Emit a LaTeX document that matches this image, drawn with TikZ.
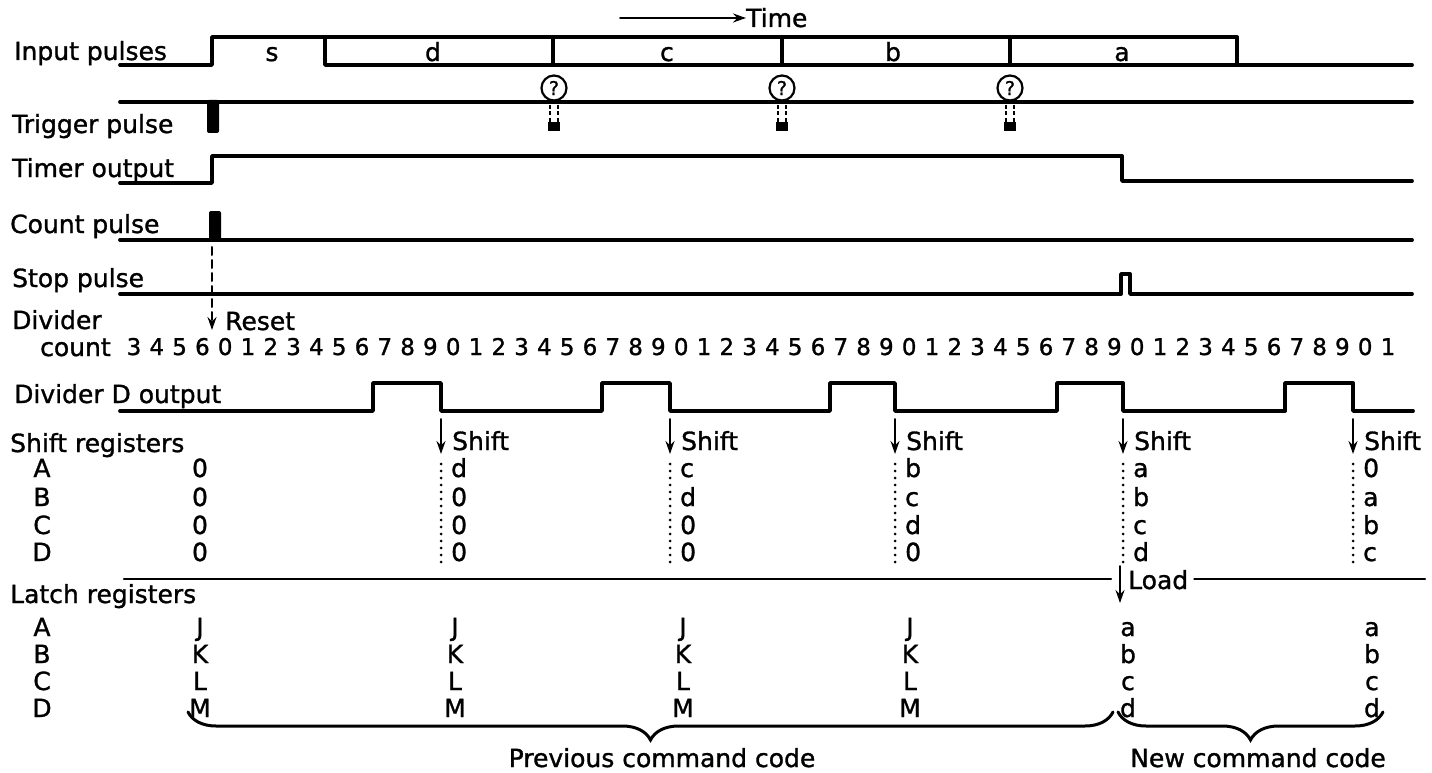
\documentclass[tikz,border=0pt]{standalone}
\usepackage{fontspec}
\setmainfont{DejaVu Sans}[FakeBold=1.2]
\usetikzlibrary{arrows.meta,decorations.pathreplacing}

\begin{document}
\begin{tikzpicture}[x=1pt,y=-1pt,>={Stealth[length=13pt,width=9pt]},line cap=round,
  font=\fontsize{25}{30}\selectfont,
  wave/.style={line width=3.8pt,line join=round},
  lab/.style={anchor=base west,inner sep=0pt},
  val/.style={anchor=base,inner sep=0pt},
  digit/.style={anchor=base,inner sep=0pt,font=\fontsize{23}{26}\selectfont},
  qmark/.style={draw,circle,line width=2.2pt,inner sep=0pt,minimum size=25pt,font=\fontsize{19}{19}\selectfont},
  dotline/.style={line width=3pt,dash pattern=on 0pt off 7pt},
  sigarrow/.style={->,line width=2pt},
  cbrace/.style={decorate,decoration={brace,mirror,amplitude=28pt,aspect=0.5},line width=3pt}]
\useasboundingbox (0,0) rectangle (1432,773);
% time arrow
\node[lab] (time) at (746,27) {Time};
\draw[->,line width=2pt] (620,18) -- (time.base west |- 0,18);
% signal names
\node[lab] (inp) at (14,60) {Input pulses};
\node[lab] (trig) at (12,133) {Trigger pulse};
\node[lab] (tmr) at (12,177) {Timer output};
\node[lab] (cnt) at (10,233) {Count pulse};
\node[lab] (stp) at (12,287) {Stop pulse};
\node[lab] (div) at (12,329) {Divider};
\node[lab] (divc) at (40,356) {count};
\node[lab] (divd) at (14,403) {Divider D output};
\node[lab] (shreg) at (10,452) {Shift registers};
\node[lab] (ltreg) at (10,603) {Latch registers};
% input pulses
\draw[wave] (120,65) -| (212,37) -| (1237,65) -- (1412,65);
\draw[wave] (325,37) |- (1237,65);
\foreach \x in {553,782,1010}
  \draw[wave] (\x,37) -- (\x,65);
\foreach \x/\t in {272/s,433/d,667/c,893/b,1122/a}
  \node[val] (in\t) at (\x,61) {\t};
% trigger pulse
\draw[wave] (120,102) -- (1412,102);
\fill[rounded corners=2pt] (207,100) rectangle (219,133);
\foreach \x in {554,782,1010} {
  \node[qmark] (q\x) at (\x,88) {?};
  \draw[line width=1.8pt,dash pattern=on 4pt off 2.5pt,line cap=butt] (\x-4,105) -- (\x-4,125) (\x+4,105) -- (\x+4,125);
  \fill (\x-6,122) rectangle (\x+6,131);
}
% timer output
\draw[wave] (120,183) -| (212,156) -| (1122,181) -- (1412,181);
% count pulse
\draw[wave] (120,240) -- (1412,240);
\fill[rounded corners=2pt] (209,211) rectangle (221,241);
\coordinate (cp) at (212,247);
\node[lab] (reset) at (225,330) {Reset};
\coordinate (rst) at (212,330);
\draw[->,line width=2pt,dash pattern=on 8pt off 5pt] (cp) -- (rst);
% stop pulse
\draw[wave] (120,294) -- (1121,294) |- (1130,274) -- (1130,294) -- (1412,294);
% divider count
\foreach \d [count=\i from 0] in {3,4,5,6,0,1,2,3,4,5,6,7,8,9,0,1,2,3,4,5,6,7,8,9,0,1,2,3,4,5,6,7,8,9,0,1,2,3,4,5,6,7,8,9,0,1,2,3,4,5,6,7,8,9,0,1}
  \node[digit] (dc\i) at ({134+\i*22.8},355) {\d};
% divider D output
\draw[wave] (120,411) -| (373,383) -| (441,411) -| (602,383) -| (670,411) -| (830,383) -| (895,411)
  -| (1057,383) -| (1123,411) -| (1285,383) -| (1353,411) -- (1413,411);
% shift registers
\foreach \r/\y in {A/477,B/506,C/534,D/561} {
  \node[val] (sr\r) at (42,\y) {\r};
  \node[val] (s0\r) at (200,\y) {0};
}
\foreach \x/\a/\b/\c/\d [count=\k] in {441/d/0/0/0,670/c/d/0/0,895/b/c/d/0,1123/a/b/c/d,1353/0/a/b/c} {
  \coordinate (sh\k) at (\x,419);
  \node[lab] (sht\k) at (\x+11,450) {Shift};
  \draw[sigarrow] (sh\k) -- (\x,454);
  \draw[dotline] (\x,464) -- (\x,566);
  \node[lab] at (\x+10,477) {\a};
  \node[lab] at (\x+10,506) {\b};
  \node[lab] at (\x+10,534) {\c};
  \node[lab] at (\x+10,561) {\d};
}
% load
\node[lab] (load) at (1128,589) {Load};
\draw[line width=2.4pt] (124,579) -- (1111,579);
\draw[line width=2.4pt] (load.east |- 0,579) ++(6,0) -- (1425,579);
\coordinate (ld) at (1120,566);
\draw[sigarrow] (ld) -- (1120,603);
% latch registers
\foreach \r/\y/\p/\n in {A/636/J/a,B/663/K/b,C/690/L/c,D/717/M/d} {
  \node[val] (lr\r) at (42,\y) {\r};
  \foreach \x in {200,455,683,910}
    \node[val] at (\x,\y) {\p};
  \foreach \x in {1128,1372}
    \node[val] at (\x,\y) {\n};
}
% command codes
\draw[cbrace] (188,712) -- (1113,712);
\draw[cbrace] (1118,712) -- (1383,712);
\node[val] (prev) at (662,767) {Previous command code};
\node[val] (new) at (1258,767) {New command code};
\end{tikzpicture}
\end{document}
